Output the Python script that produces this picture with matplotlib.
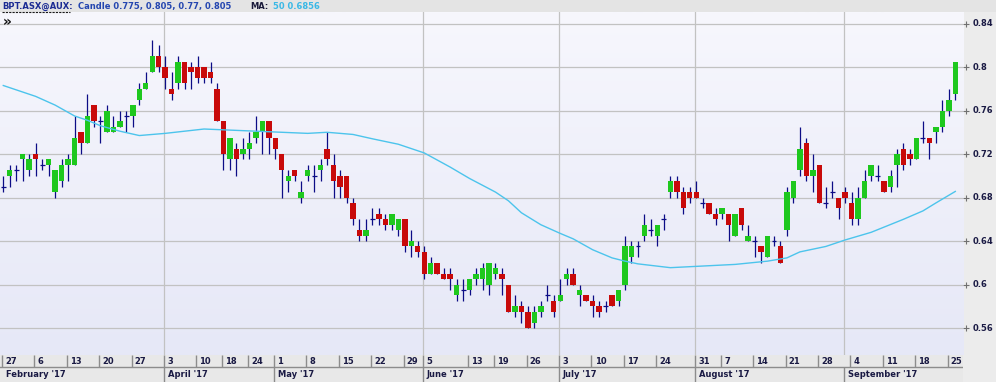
import numpy as np
import matplotlib
matplotlib.use("Agg")
import matplotlib.pyplot as plt
from matplotlib.colors import LinearSegmentedColormap
from matplotlib.patches import Rectangle
import matplotlib.transforms as mtransforms

# daily candles, BPT.ASX, 27 Feb .. 25 Sep 2017
opens = [0.69, 0.70, 0.705, 0.715, 0.705, 0.72, 0.71, 0.71, 0.685, 0.695,
         0.71, 0.71, 0.74, 0.73, 0.765, 0.75, 0.74, 0.74, 0.745, 0.755,
         0.755, 0.77, 0.78, 0.795, 0.81, 0.80, 0.78, 0.785, 0.805, 0.80,
         0.80, 0.80, 0.795, 0.78, 0.75, 0.715, 0.725, 0.72, 0.725, 0.735,
         0.74, 0.75, 0.735, 0.72, 0.695, 0.705, 0.68, 0.70, 0.70, 0.705,
         0.725, 0.71, 0.70, 0.70, 0.675, 0.65, 0.645, 0.66, 0.665, 0.66,
         0.655, 0.65, 0.66, 0.635, 0.635, 0.63, 0.61, 0.62, 0.61, 0.61,
         0.59, 0.595, 0.595, 0.605, 0.605, 0.60, 0.61, 0.61, 0.60, 0.575,
         0.58, 0.575, 0.565, 0.575, 0.59, 0.585, 0.585, 0.605, 0.61, 0.59,
         0.59, 0.585, 0.58, 0.58, 0.59, 0.585, 0.60, 0.625, 0.635, 0.645,
         0.65, 0.645, 0.66, 0.685, 0.695, 0.685, 0.685, 0.685, 0.675, 0.675,
         0.665, 0.665, 0.665, 0.645, 0.67, 0.64, 0.64, 0.635, 0.625, 0.64,
         0.635, 0.65, 0.68, 0.705, 0.73, 0.70, 0.71, 0.675, 0.685, 0.68,
         0.685, 0.675, 0.66, 0.68, 0.70, 0.70, 0.695, 0.69, 0.71, 0.725,
         0.72, 0.715, 0.735, 0.735, 0.74, 0.745, 0.76, 0.775]
highs = [0.70, 0.71, 0.71, 0.72, 0.72, 0.73, 0.715, 0.715, 0.705, 0.715,
         0.72, 0.755, 0.74, 0.775, 0.765, 0.755, 0.765, 0.755, 0.76, 0.76,
         0.765, 0.785, 0.795, 0.825, 0.82, 0.81, 0.795, 0.81, 0.805, 0.805,
         0.81, 0.80, 0.805, 0.785, 0.75, 0.735, 0.73, 0.735, 0.74, 0.755,
         0.75, 0.75, 0.735, 0.72, 0.705, 0.705, 0.695, 0.71, 0.71, 0.715,
         0.74, 0.72, 0.705, 0.70, 0.68, 0.66, 0.66, 0.67, 0.67, 0.665,
         0.665, 0.66, 0.66, 0.65, 0.64, 0.635, 0.625, 0.62, 0.615, 0.615,
         0.605, 0.605, 0.605, 0.615, 0.62, 0.62, 0.62, 0.615, 0.60, 0.59,
         0.585, 0.58, 0.58, 0.585, 0.60, 0.59, 0.605, 0.615, 0.615, 0.60,
         0.59, 0.59, 0.585, 0.585, 0.59, 0.595, 0.645, 0.64, 0.64, 0.665,
         0.66, 0.655, 0.665, 0.70, 0.70, 0.69, 0.69, 0.695, 0.68, 0.675,
         0.67, 0.67, 0.665, 0.665, 0.67, 0.655, 0.645, 0.635, 0.645, 0.645,
         0.64, 0.69, 0.695, 0.745, 0.735, 0.72, 0.71, 0.69, 0.695, 0.68,
         0.69, 0.685, 0.69, 0.705, 0.71, 0.71, 0.695, 0.705, 0.725, 0.73,
         0.725, 0.735, 0.75, 0.735, 0.745, 0.77, 0.78, 0.805]
lows = [0.685, 0.69, 0.695, 0.695, 0.70, 0.70, 0.705, 0.70, 0.68, 0.69,
        0.695, 0.71, 0.72, 0.73, 0.745, 0.73, 0.74, 0.74, 0.745, 0.74,
        0.745, 0.765, 0.78, 0.795, 0.795, 0.78, 0.77, 0.78, 0.78, 0.78,
        0.785, 0.785, 0.785, 0.75, 0.705, 0.705, 0.70, 0.715, 0.715, 0.73,
        0.72, 0.72, 0.715, 0.68, 0.685, 0.695, 0.675, 0.695, 0.685, 0.695,
        0.71, 0.68, 0.68, 0.675, 0.655, 0.64, 0.64, 0.655, 0.655, 0.65,
        0.65, 0.645, 0.63, 0.625, 0.625, 0.605, 0.61, 0.61, 0.605, 0.595,
        0.585, 0.585, 0.59, 0.60, 0.595, 0.59, 0.605, 0.59, 0.575, 0.57,
        0.565, 0.56, 0.56, 0.57, 0.585, 0.57, 0.585, 0.60, 0.60, 0.58,
        0.585, 0.57, 0.57, 0.575, 0.58, 0.58, 0.595, 0.62, 0.625, 0.64,
        0.645, 0.635, 0.65, 0.68, 0.68, 0.665, 0.675, 0.68, 0.67, 0.665,
        0.655, 0.66, 0.64, 0.645, 0.65, 0.64, 0.625, 0.62, 0.625, 0.635,
        0.62, 0.645, 0.675, 0.70, 0.695, 0.685, 0.675, 0.67, 0.68, 0.66,
        0.675, 0.655, 0.655, 0.68, 0.695, 0.695, 0.685, 0.685, 0.69, 0.705,
        0.71, 0.715, 0.73, 0.715, 0.73, 0.74, 0.755, 0.77]
closes = [0.69, 0.705, 0.705, 0.72, 0.715, 0.715, 0.71, 0.715, 0.705, 0.71,
          0.715, 0.735, 0.73, 0.755, 0.75, 0.75, 0.76, 0.745, 0.75, 0.755,
          0.765, 0.78, 0.785, 0.81, 0.80, 0.79, 0.775, 0.805, 0.785, 0.795,
          0.79, 0.79, 0.79, 0.75, 0.72, 0.735, 0.715, 0.725, 0.73, 0.74,
          0.75, 0.735, 0.725, 0.705, 0.70, 0.70, 0.685, 0.705, 0.70, 0.71,
          0.715, 0.695, 0.69, 0.68, 0.66, 0.645, 0.65, 0.66, 0.66, 0.655,
          0.665, 0.66, 0.635, 0.64, 0.63, 0.61, 0.62, 0.61, 0.605, 0.605,
          0.60, 0.595, 0.605, 0.61, 0.615, 0.62, 0.615, 0.605, 0.575, 0.58,
          0.575, 0.56, 0.575, 0.58, 0.59, 0.575, 0.59, 0.61, 0.60, 0.595,
          0.585, 0.58, 0.575, 0.58, 0.58, 0.595, 0.635, 0.635, 0.635, 0.655,
          0.65, 0.655, 0.66, 0.695, 0.685, 0.67, 0.68, 0.68, 0.675, 0.665,
          0.66, 0.67, 0.655, 0.665, 0.655, 0.645, 0.64, 0.63, 0.645, 0.64,
          0.62, 0.685, 0.695, 0.725, 0.70, 0.705, 0.675, 0.675, 0.685, 0.67,
          0.68, 0.66, 0.68, 0.695, 0.71, 0.70, 0.685, 0.70, 0.72, 0.71,
          0.715, 0.735, 0.735, 0.73, 0.745, 0.76, 0.77, 0.805]

# 50 day moving average, read at a few candles
ma_idx = [0, 5, 8, 11, 13, 15, 18, 21, 25, 31, 39, 47, 50, 54, 57, 61, 65,
          69, 72, 76, 78, 80, 83, 86, 88, 91, 94, 96, 98, 103, 108, 113,
          118, 121, 123, 127, 130, 134, 139, 142, 144, 147]
ma_vals = [0.783, 0.773, 0.765, 0.755, 0.751, 0.746, 0.741, 0.737, 0.739,
           0.743, 0.741, 0.739, 0.740, 0.738, 0.734, 0.729, 0.721, 0.708,
           0.6975, 0.685, 0.677, 0.666, 0.655, 0.647, 0.642, 0.632, 0.6245,
           0.6215, 0.619, 0.6155, 0.617, 0.6185, 0.6215, 0.6245, 0.630,
           0.635, 0.641, 0.648, 0.660, 0.6677, 0.675, 0.6856]

day_labels = ['27', '6', '13', '20', '27', '3', '10', '18', '24', '1', '8',
              '15', '22', '29', '5', '13', '19', '26', '3', '10', '17', '24',
              '31', '7', '14', '21', '28', '4', '11', '18', '25']
day_idx = [0, 5, 10, 15, 20, 25, 30, 34, 38, 42, 47, 52, 57, 62, 65, 72, 76,
           81, 86, 91, 96, 101, 107, 111, 116, 121, 126, 131, 136, 141, 146]
month_labels = ["February '17", "April '17", "May '17", "June '17",
                "July '17", "August '17", "September '17"]
month_idx = [0, 25, 42, 65, 86, 107, 130]
grid_month_idx = [25, 65, 86, 107, 130]
y_ticks = [0.56, 0.60, 0.64, 0.68, 0.72, 0.76, 0.80, 0.84]
y_tick_labels = ['0.56', '0.6', '0.64', '0.68', '0.72', '0.76', '0.8', '0.84']

GREEN = '#1ec81e'
RED = '#c80a0a'
WICK = '#0c0c86'
MA_COL = '#4cc4ec'
GRID = '#c2c2c2'
TXT = '#1a1a44'

W, H = 996, 382
XLIM = (-0.51, 148.19)
YLIM = (0.5352, 0.8506)


def box(x0, y0, x1, y1):
    return [x0 / W, 1 - y1 / H, (x1 - x0) / W, (y1 - y0) / H]


fig = plt.figure(figsize=(W / 100, H / 100), dpi=100, facecolor='#ececec')

# header bar
fig.patches.append(Rectangle((0, 1 - 12 / H), 1, 12 / H, transform=fig.transFigure,
                             facecolor='#e4e4e4', edgecolor='none', zorder=0))
hy = 1 - 6.5 / H
fig.text(2 / W, hy, 'BPT.ASX@AUX:', color='#1c2c94', fontsize=6,
         fontweight='bold', va='center', ha='left')
fig.lines.append(plt.Line2D([2 / W, 70 / W], [1 - 11.5 / H] * 2, transform=fig.transFigure,
                            color='#1a1a1a', lw=0.8, ls=(0, (2, 1))))
fig.text(78 / W, hy, 'Candle 0.775, 0.805, 0.77, 0.805', color='#2446b0', fontsize=6,
         fontweight='bold', va='center', ha='left')
fig.text(250 / W, hy, 'MA:', color='#1a1a3a', fontsize=6,
         fontweight='bold', va='center', ha='left')
fig.text(273 / W, hy, '50 0.6856', color='#3ab8e6', fontsize=6,
         fontweight='bold', va='center', ha='left')

ax = fig.add_axes(box(0, 12, 963, 355))
ax.set_xlim(*XLIM)
ax.set_ylim(*YLIM)
for s in ax.spines.values():
    s.set_visible(False)
ax.set_xticks([])
ax.set_yticks([])

bg = LinearSegmentedColormap.from_list('bg', ['#e6e8f7', '#f7f7fd'])
ax.imshow(np.linspace(0, 1, 256).reshape(-1, 1), cmap=bg, origin='lower',
          extent=[XLIM[0], XLIM[1], YLIM[0], YLIM[1]], aspect='auto', zorder=0)

for v in y_ticks:
    ax.axhline(v, color=GRID, lw=0.9, zorder=1)
for i in grid_month_idx:
    ax.axvline(i - 0.2, color=GRID, lw=0.9, zorder=1)

o = np.array(opens)
h = np.array(highs)
l = np.array(lows)
c = np.array(closes)
x = np.arange(len(c))
flat = np.isclose(o, c)
up = (c > o) & ~flat
dn = (c < o) & ~flat

ax.vlines(x, l, h, color=WICK, lw=0.9, zorder=2)
ax.bar(x[up], (c - o)[up], bottom=o[up], width=0.84, color=GREEN, lw=0, zorder=3)
ax.bar(x[dn], (o - c)[dn], bottom=c[dn], width=0.84, color=RED, lw=0, zorder=3)
ax.hlines(c[flat], x[flat] - 0.38, x[flat] + 0.38, color=WICK, lw=0.9, zorder=3)

ax.plot(ma_idx, ma_vals, color=MA_COL, lw=1.0, zorder=4)

ax.text(0.003, 0.97, '\u00bb', transform=ax.transAxes, fontsize=10,
        fontweight='bold', color='#111111', va='center', ha='left')

# price labels on the right
trans = mtransforms.blended_transform_factory(ax.transAxes, ax.transData)
for v, lab in zip(y_ticks, y_tick_labels):
    ax.plot([1.0035], [v], marker='+', ms=4, mew=0.8, color='#707070',
            transform=trans, clip_on=False)
    ax.text(1.0095, v, lab, transform=trans, fontsize=6, fontweight='bold',
            color=TXT, va='center', ha='left', clip_on=False)

# date band
bx = fig.add_axes(box(0, 355, 963, 382))
bx.set_xlim(*XLIM)
bx.set_ylim(0, 1)
bx.set_facecolor('#e8e8e8')
for s in bx.spines.values():
    s.set_visible(False)
bx.set_xticks([])
bx.set_yticks([])
bx.axhline(0.56, color='#8c8c8c', lw=1.0)
bx.vlines(np.array(day_idx) - 0.2, 0.56, 1.0, color='#8c8c8c', lw=1.0)
bx.vlines(np.array(month_idx[1:]) - 0.2, 0.0, 0.56, color='#8c8c8c', lw=1.0)
for i, lab in zip(day_idx, day_labels):
    bx.text(i + 0.3, 0.75, lab, fontsize=6, fontweight='bold', color=TXT,
            va='center', ha='left')
for i, lab in zip(month_idx, month_labels):
    bx.text(i + 0.4, 0.26, lab, fontsize=6, fontweight='bold', color=TXT,
            va='center', ha='left')

fig.savefig('out.png', dpi=100, facecolor=fig.get_facecolor())
